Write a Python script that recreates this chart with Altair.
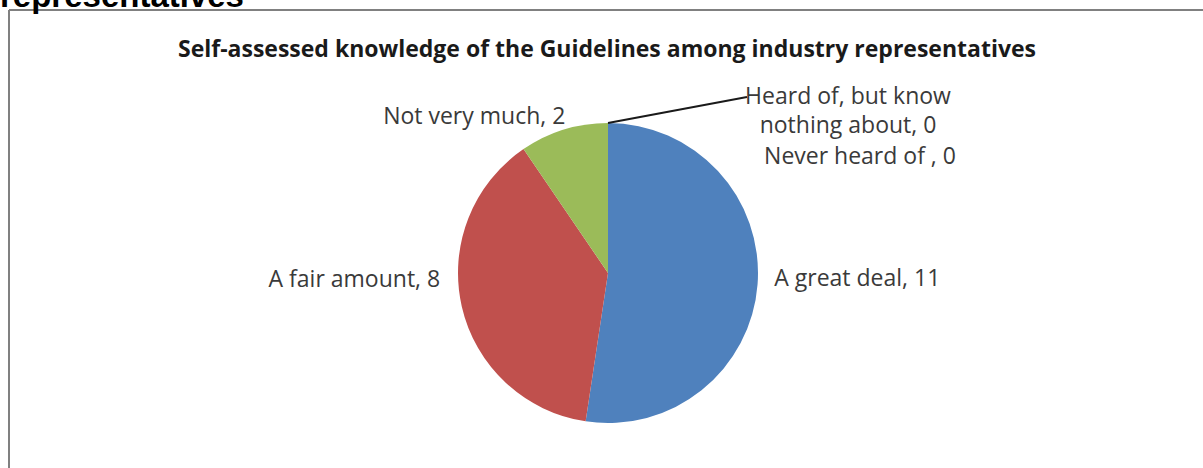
import altair as alt
import pandas as pd

categories = ["A great deal", "A fair amount", "Not very much",
              "Heard of, but know nothing about", "Never heard of "]
counts = [11, 8, 2, 0, 0]
colors = ["#4F81BD", "#C0504D", "#9BBB59", "#8064A2", "#4BACC6"]

df = pd.DataFrame({"cat": categories, "count": counts, "idx": list(range(len(categories)))})
one = alt.Data(values=[{"a": 1}])

CX, CY, R = 608, 273, 150
LABEL_FONT = "Open Sans"
LABEL_SIZE = 23
LABEL_COLOR = "#3a3a3a"

base = alt.Chart(df).encode(
    theta=alt.Theta("count:Q", stack=True),
    order=alt.Order("idx:Q"),
    x=alt.value(CX), y=alt.value(CY),
)

pie = base.mark_arc(radius=R, stroke=None).encode(
    color=alt.Color("cat:N", scale=alt.Scale(domain=categories, range=colors), legend=None)
)

def label(cat, radius, dx, dy, align="center", line_break=None):
    kw = dict(radius=radius, dx=dx, dy=dy, align=align, baseline="middle",
              font=LABEL_FONT, fontSize=LABEL_SIZE, color=LABEL_COLOR)
    if line_break:
        kw["lineBreak"] = line_break
        kw["lineHeight"] = 29
    txt = "datum.cat + ', ' + datum.count"
    if cat == categories[3]:
        txt = "'Heard of, but know|nothing about, ' + datum.count"
    return base.transform_calculate(
        lab=f"datum.cat === '{cat}' ? {txt} : ''"
    ).mark_text(**kw).encode(text="lab:N")

l1 = label(categories[0], 250, 0, -13)
l2 = label(categories[1], 254, -6, -50)
l3 = label(categories[2], 165, 6, 2, align="right")
l4 = label(categories[3], R, 240, -26, line_break="|")
l5 = label(categories[4], R, 252, 34)

leader = alt.Chart(one).mark_rule(color="#1a1a1a", strokeWidth=2).encode(
    x=alt.value(CX), y=alt.value(CY - R), x2=alt.value(747), y2=alt.value(97)
)

border_left = alt.Chart(one).mark_rule(color="#808080", strokeWidth=2).encode(
    x=alt.value(9), y=alt.value(10), y2=alt.value(468)
)
border_top = alt.Chart(one).mark_rule(color="#808080", strokeWidth=2).encode(
    x=alt.value(9), x2=alt.value(1203), y=alt.value(10)
)

title = alt.Chart(one).mark_text(
    text="Self-assessed knowledge of the Guidelines among industry representatives",
    font=LABEL_FONT, fontSize=23, fontWeight="bold", color="#1a1a1a",
    align="center", baseline="alphabetic"
).encode(x=alt.value(607), y=alt.value(57))

heading = alt.Chart(one).mark_text(
    text="representatives", font="Liberation Sans", fontSize=33, fontWeight="bold",
    color="#000000", align="left", baseline="alphabetic"
).encode(x=alt.value(0), y=alt.value(7))

chart = alt.layer(
    pie, l1, l2, l3, l4, l5, leader, border_left, border_top, title, heading
).properties(
    width=1203, height=468, padding=0,
    autosize=alt.AutoSizeParams(type="none"),
    background="white",
).configure_view(stroke=None)

chart.save("out.html", embed_options={"renderer": "svg", "actions": False})
